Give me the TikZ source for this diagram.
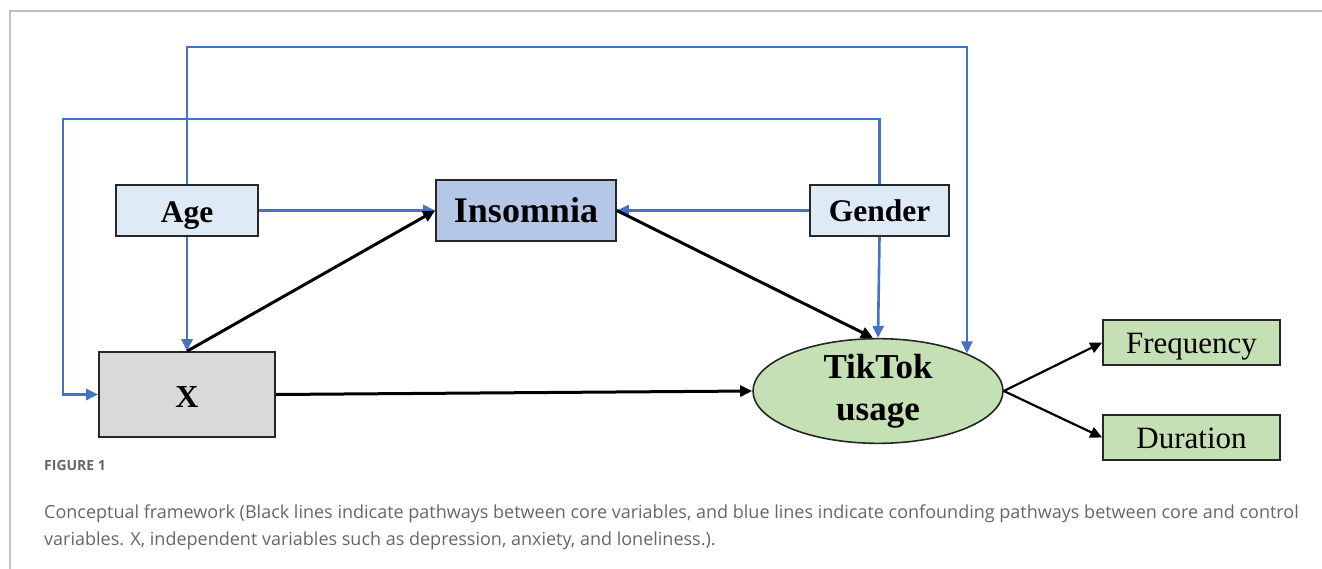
\documentclass[tikz,border=0pt]{standalone}
\usepackage{fontspec}
\setmainfont{Liberation Serif}
\newfontfamily\capfont{Open Sans}
\usetikzlibrary{arrows.meta,shapes.geometric}
\definecolor{lblue}{HTML}{DEEAF6}
\definecolor{mblue}{HTML}{B4C7E7}
\definecolor{lgreen}{HTML}{C5E0B4}
\definecolor{lgrey}{HTML}{D9D9D9}
\definecolor{lineblue}{HTML}{4472C4}
\definecolor{capgrey}{HTML}{666666}
\definecolor{framegrey}{HTML}{BFBFBF}
\begin{document}
\begin{tikzpicture}[x=1pt,y=-1pt,
  box/.style={draw=black!85,line width=1.6pt,inner sep=0pt,anchor=center,text height=25pt,text depth=0pt},
  gbox/.style={box,fill=lgreen,minimum width=177,minimum height=45,text height=21pt,font=\fontsize{31}{33}\selectfont},
  blueline/.style={draw=lineblue,line width=2.6pt,-{Triangle[length=12pt,width=11pt]}},
  blackline/.style={draw=black,line width=3pt,-{Triangle[length=12pt,width=11pt]}},
  thinblack/.style={draw=black,line width=2.2pt,-{Triangle[length=12pt,width=11pt]}},
  captxt/.style={text=capgrey,anchor=west,inner sep=0pt,font=\capfont\fontsize{18}{20}\selectfont}]
\useasboundingbox (0,0) rectangle (1322,569);
\draw[framegrey,line width=2pt] (1322,11) -- (10,11) -- (10,569);
% nodes
\node[box,fill=lblue,minimum width=142,minimum height=51,font=\bfseries\fontsize{31.5}{33}\selectfont] (age) at (187,210.5) {Age};
\node[box,fill=mblue,minimum width=180,minimum height=61,font=\bfseries\fontsize{36}{38}\selectfont] (ins) at (526,210.5) {Insomnia};
\node[box,fill=lblue,minimum width=139,minimum height=51,text height=23pt,font=\bfseries\fontsize{31.5}{33}\selectfont] (gen) at (879.5,210.5) {Gender};
\node[box,fill=lgrey,minimum width=176,minimum height=85,font=\bfseries\fontsize{32}{34}\selectfont] (x) at (187,394.5) {X};
\node[draw=black!85,line width=1.6pt,fill=lgreen,ellipse,minimum width=250,minimum height=92,inner sep=0pt,align=center,font=\bfseries\fontsize{35}{42}\selectfont] (tt) at (878,391) {\rule{0pt}{20pt}TikTok\\usage};
\node[gbox] (freq) at (1191.5,342.5) {Frequency};
\node[gbox] (dur) at (1191.5,437.5) {Duration};
% corner coordinates
\coordinate (c1) at (187,47);
\coordinate (c2) at (63,119);
% blue lines
\draw[blueline] (age.north) -- (c1) -| (tt.north east);
\draw[blueline] (gen.north) |- (c2) |- (x.west);
\draw[blueline] (age.east) -- (ins.west);
\draw[blueline] (gen.west) -- (ins.east);
\draw[blueline] (age.south) -- (x.north);
\draw[blueline] (gen.south) -- (tt.north);
% black lines
\draw[blackline] (x.north) -- (ins.west);
\draw[blackline] (ins.east) -- ([xshift=-5pt]tt.north);
\draw[blackline] (x.east) -- (tt.west);
\draw[thinblack] (tt.east) -- (freq.west);
\draw[thinblack] (tt.east) -- (dur.west);
% caption
\node[text=capgrey,anchor=west,inner sep=0pt,font=\capfont\bfseries\fontsize{14}{16}\selectfont] (fig) at (44,465) {FIGURE 1};
\node[captxt] (cap1) at (44,514) {Conceptual framework (Black lines indicate pathways between core variables, and blue lines indicate confounding pathways between core and control};
\node[captxt] (cap2) at (44,541) {variables. X, independent variables such as depression, anxiety, and loneliness.).};
\end{tikzpicture}
\end{document}
